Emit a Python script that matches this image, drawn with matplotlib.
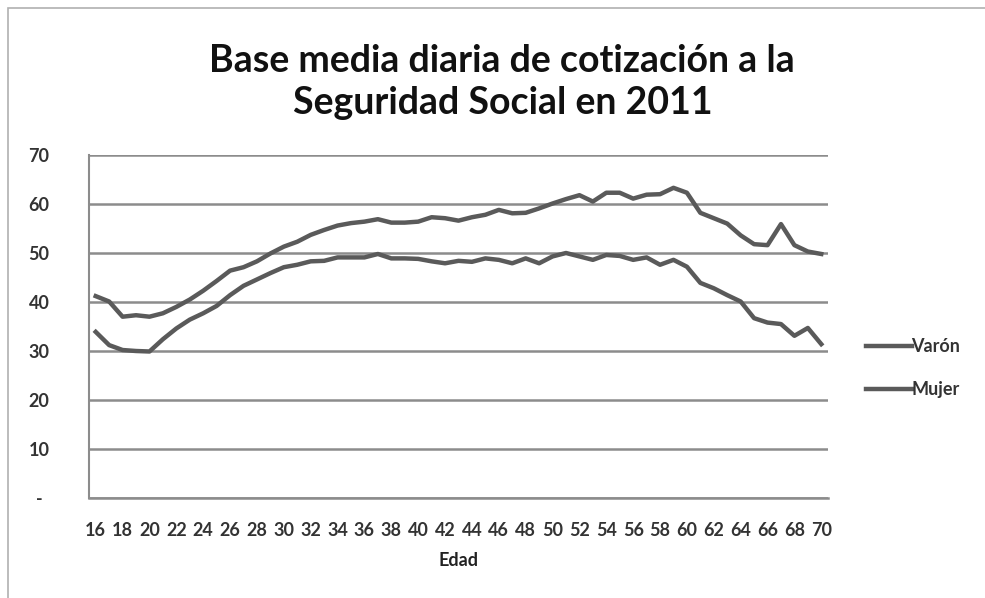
import matplotlib
matplotlib.use("Agg")
import matplotlib.pyplot as plt
from matplotlib.patches import Rectangle

edades = list(range(16, 71))
varon = [41.2, 40.1, 37.0, 37.3, 37.0, 37.7, 39.0, 40.5, 42.3, 44.3,
         46.4, 47.1, 48.3, 49.9, 51.3, 52.3, 53.7, 54.7, 55.6, 56.1,
         56.4, 56.9, 56.2, 56.2, 56.4, 57.3, 57.1, 56.6, 57.3, 57.8,
         58.8, 58.1, 58.2, 59.1, 60.1, 61.0, 61.8, 60.5, 62.3, 62.3,
         61.1, 61.9, 62.0, 63.3, 62.3, 58.2, 57.1, 56.0, 53.6, 51.8,
         51.6, 55.9, 51.6, 50.3, 49.8]
mujer = [33.9, 31.2, 30.2, 30.0, 29.9, 32.4, 34.6, 36.4, 37.7, 39.2,
         41.4, 43.3, 44.6, 45.9, 47.1, 47.6, 48.3, 48.4, 49.1, 49.1,
         49.1, 49.8, 48.9, 48.9, 48.8, 48.3, 47.9, 48.4, 48.2, 48.9,
         48.6, 47.9, 48.9, 47.9, 49.3, 50.0, 49.3, 48.6, 49.6, 49.4,
         48.6, 49.1, 47.6, 48.6, 47.2, 43.9, 42.8, 41.4, 40.1, 36.7,
         35.8, 35.5, 33.1, 34.7, 31.4]
y_ticks = [0, 10, 20, 30, 40, 50, 60, 70]
y_labels = ["-", "10", "20", "30", "40", "50", "60", "70"]
titulo = "Base media diaria de cotización a la\nSeguridad Social en 2011"
x_label = "Edad"
series_labels = ["Varón", "Mujer"]

plt.rcParams['font.family'] = ['Lato', 'DejaVu Sans']

fig = plt.figure(figsize=(9.85, 5.98), dpi=100)
fig.patches.append(Rectangle((8/985, -0.01), 1.2, 1 - 8/598 + 0.01, transform=fig.transFigure,
                             fill=False, edgecolor="#b0b0b0", linewidth=1.2))

ax = fig.add_axes([89/985, 1 - 498/598, 739/985, 343/598])
xs = list(range(len(edades)))
line_color = "#5a5a5a"
ax.plot(xs, varon, color=line_color, linewidth=3.2, label=series_labels[0], solid_joinstyle="round")
ax.plot(xs, mujer, color=line_color, linewidth=3.2, label=series_labels[1], solid_joinstyle="round")

ax.set_xlim(-0.5, len(edades) - 0.5)
ax.set_ylim(0, 70)
ax.set_yticks(y_ticks)
ax.set_yticklabels(y_labels)
ax.set_xticks(xs[::2])
ax.set_xticklabels([str(e) for e in edades[::2]])
ax.tick_params(axis="both", length=0, labelsize=13, colors="#333333")
ax.tick_params(axis="y", pad=36)
for lab in ax.get_yticklabels():
    lab.set_horizontalalignment("center")
ax.tick_params(axis="x", pad=17)
for lab in ax.get_xticklabels() + ax.get_yticklabels():
    lab.set_fontweight("bold")
ax.grid(axis="y", color="#8c8c8c", linewidth=1.8)
ax.set_axisbelow(True)
for s in ["top", "right"]:
    ax.spines[s].set_visible(False)
ax.spines["left"].set_color("#8c8c8c")
ax.spines["bottom"].set_color("#8c8c8c")
ax.spines["left"].set_linewidth(1.5)
ax.spines["bottom"].set_linewidth(1.8)

ax.set_xlabel(x_label, fontsize=13, fontweight="bold", color="#222222", labelpad=10)

fig.text(0.51, 1 - 82/598, titulo, ha="center", va="center", fontsize=27,
         fontweight="bold", color="#111111", linespacing=1.3)

leg = ax.legend(loc="center left", bbox_to_anchor=(1.03, 0.378), frameon=False,
                handlelength=2.5, handletextpad=0.0, labelspacing=1.45, fontsize=13)
for t in leg.get_texts():
    t.set_fontweight("bold")
    t.set_color("#333333")

fig.savefig("out.png", dpi=100)
